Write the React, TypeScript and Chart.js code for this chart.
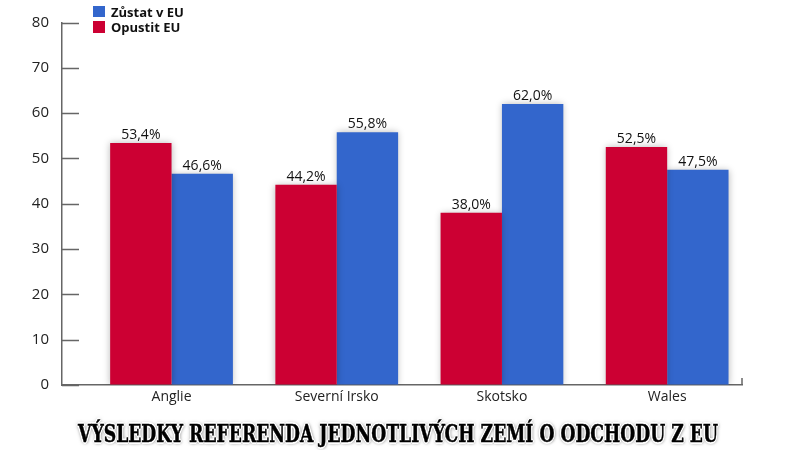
import React, { useEffect, useLayoutEffect, useRef, useState } from "react";
import { Chart, registerables } from "chart.js";

Chart.register(...registerables);

const categories = ["Anglie", "Severní Irsko", "Skotsko", "Wales"];
const leaveValues = [53.4, 44.2, 38.0, 52.5];
const remainValues = [46.6, 55.8, 62.0, 47.5];
const yTicks = [0, 10, 20, 30, 40, 50, 60, 70, 80];
const leaveLabel = "Opustit EU";
const remainLabel = "Zůstat v EU";
const titleText = "VÝSLEDKY REFERENDA JEDNOTLIVÝCH ZEMÍ O ODCHODU Z EU";

const RED = "#CC0033";
const BLUE = "#3366CC";
const AXIS = "#666666";

const fmt = (v: number) => v.toFixed(1).replace(".", ",") + "%";

const decorPlugin = {
  id: "decor",
  beforeDatasetsDraw(chart: any) {
    const ctx = chart.ctx;
    ctx.save();
    ctx.shadowColor = "rgba(0,0,0,0.28)";
    ctx.shadowBlur = 7;
    ctx.shadowOffsetX = 0;
    ctx.shadowOffsetY = 0;
  },
  afterDatasetsDraw(chart: any) {
    const ctx = chart.ctx;
    ctx.restore();
    ctx.save();
    ctx.font = "14px 'Open Sans'";
    ctx.fillStyle = "#111";
    ctx.textAlign = "center";
    ctx.textBaseline = "bottom";
    chart.data.datasets.forEach((ds: any, di: number) => {
      const meta = chart.getDatasetMeta(di);
      meta.data.forEach((el: any, i: number) => {
        ctx.fillText(fmt(ds.data[i].y), el.x, el.y - 1);
      });
    });
    ctx.restore();
  },
  afterDraw(chart: any) {
    const ctx = chart.ctx;
    const y = chart.scales.y;
    const area = chart.chartArea;
    ctx.save();
    ctx.strokeStyle = AXIS;
    ctx.lineWidth = 1.5;
    ctx.beginPath();
    yTicks.forEach((t) => {
      const py = Math.round(y.getPixelForValue(t)) + 0.5;
      ctx.moveTo(area.left, py);
      ctx.lineTo(area.left + 17, py);
    });
    ctx.moveTo(area.right, area.bottom);
    ctx.lineTo(area.right, area.bottom - 7);
    ctx.stroke();
    ctx.restore();
  },
};

export default function App() {
  const canvasRef = useRef<HTMLCanvasElement | null>(null);
  const titleRef = useRef<HTMLSpanElement | null>(null);
  const [scale, setScale] = useState(1);

  useLayoutEffect(() => {
    const el = titleRef.current;
    if (el) {
      const w = el.offsetWidth;
      if (w > 0) setScale(640 / w);
    }
  }, []);

  useEffect(() => {
    if (!canvasRef.current) return;
    const chart = new Chart(canvasRef.current, {
      type: "bar",
      data: {
        datasets: [
          {
            label: leaveLabel,
            data: leaveValues.map((v, i) => ({ x: i, y: v })),
            backgroundColor: RED,
            borderWidth: 0,
          },
          {
            label: remainLabel,
            data: remainValues.map((v, i) => ({ x: i, y: v })),
            backgroundColor: BLUE,
            borderWidth: 0,
          },
        ],
      },
      options: {
        animation: false,
        responsive: false,
        devicePixelRatio: 1,
        layout: { padding: { left: 0, right: 56, top: 22.5, bottom: 0 } },
        categoryPercentage: 0.743,
        barPercentage: 1,
        plugins: {
          legend: { display: false },
          tooltip: { enabled: false },
          title: { display: false },
        },
        scales: {
          x: {
            type: "linear",
            offset: false,
            min: -0.663,
            max: 3.453,
            afterBuildTicks: (s: any) => {
              s.ticks = categories.map((_, i) => ({ value: i }));
            },
            afterFit: (s: any) => {
              s.height = 65;
            },
            grid: { display: true, offset: false, color: "transparent", drawTicks: false },
            border: { display: true, color: AXIS, width: 1.5 },
            ticks: {
              padding: 4,
              autoSkip: false,
              maxRotation: 0,
              color: "#222",
              font: { family: "'Open Sans'", size: 14 },
              callback: (v: any) => categories[v as number] ?? "",
            },
          },
          y: {
            min: 0,
            max: 80,
            afterBuildTicks: (s: any) => {
              s.ticks = yTicks.map((t) => ({ value: t }));
            },
            afterFit: (s: any) => {
              s.width = 62;
            },
            grid: { display: true, color: "transparent", drawTicks: false },
            border: { display: true, color: AXIS, width: 1.5 },
            ticks: {
              padding: 13,
              color: "#222",
              font: { family: "'Open Sans'", size: 15 },
            },
          },
        },
      },
      plugins: [decorPlugin],
    } as any);
    return () => chart.destroy();
  }, []);

  const legendItems = [
    { label: remainLabel, color: BLUE },
    { label: leaveLabel, color: RED },
  ];

  const white = "#fff";
  const titleShadow = [
    `1px 0 0 ${white}`,
    `-1px 0 0 ${white}`,
    `0 1px 0 ${white}`,
    `0 -1px 0 ${white}`,
    `1px 1px 0 ${white}`,
    `-1px -1px 0 ${white}`,
    `1px -1px 0 ${white}`,
    `-1px 1px 0 ${white}`,
    `2px 0 0 ${white}`,
    `-2px 0 0 ${white}`,
    `0 2px 0 ${white}`,
    `0 -2px 0 ${white}`,
    `0 0 5px rgba(0,0,0,0.55)`,
    `1px 1px 4px rgba(0,0,0,0.45)`,
  ].join(", ");

  return (
    <div
      style={{
        position: "fixed",
        left: 0,
        top: 0,
        width: 798,
        height: 450,
        background: "#fff",
        overflow: "hidden",
      }}
    >
      <canvas
        ref={canvasRef}
        width={798}
        height={450}
        style={{ position: "absolute", left: 0, top: 0, width: 798, height: 450 }}
      />
      {legendItems.map((it, i) => (
        <div
          key={it.label}
          style={{
            position: "absolute",
            left: 93,
            top: 5.5 + i * 15.5,
            height: 12,
            display: "flex",
            alignItems: "center",
            fontFamily: "'Open Sans', sans-serif",
            fontWeight: 700,
            fontSize: 13,
            color: "#111",
            whiteSpace: "nowrap",
          }}
        >
          <span
            style={{
              display: "inline-block",
              width: 12,
              height: 11.5,
              background: it.color,
              marginRight: 6,
            }}
          />
          <span style={{ lineHeight: "12px" }}>{it.label}</span>
        </div>
      ))}
      <span
        ref={titleRef}
        style={{
          position: "absolute",
          left: 398,
          top: 421.5,
          lineHeight: "24px",
          display: "inline-block",
          fontFamily: "'DejaVu Serif', serif",
          fontWeight: 700,
          fontSize: 24,
          color: "#000",
          whiteSpace: "nowrap",
          WebkitTextStroke: "0.5px #000",
          textShadow: titleShadow,
          transform: `translateX(-50%) scaleX(${scale})`,
          transformOrigin: "center",
        }}
      >
        {titleText}
      </span>
    </div>
  );
}
